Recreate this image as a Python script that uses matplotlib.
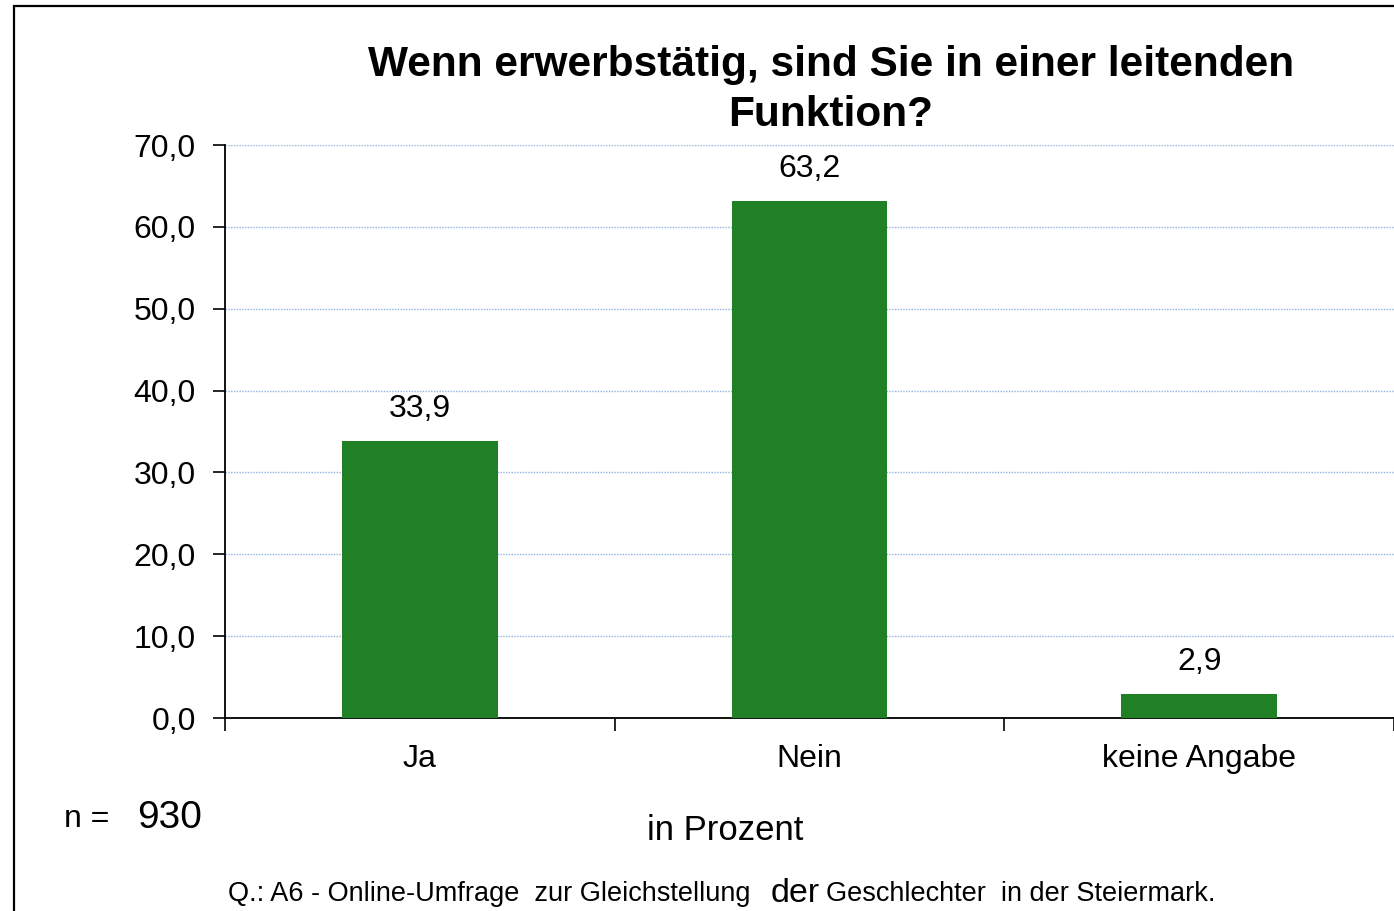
import matplotlib
matplotlib.use("Agg")
import matplotlib.pyplot as plt
from matplotlib.patches import Rectangle
from matplotlib.ticker import FuncFormatter, FixedLocator

plt.rcParams["font.family"] = ["Liberation Sans", "DejaVu Sans"]

# data
categories = ["Ja", "Nein", "keine Angabe"]
values = [33.9, 63.2, 2.9]
y_ticks = [0, 10, 20, 30, 40, 50, 60, 70]
title = "Wenn erwerbstätig, sind Sie in einer leitenden\nFunktion?"
n_total = 930

BAR_COLOR = "#208025"
GRID_COLOR = "#8db3e2"


def de_num(v, _pos=None):
    return f"{v:.1f}".replace(".", ",")


fig = plt.figure(figsize=(13.94, 9.11), dpi=100)
ax = fig.add_axes([225 / 1394, 1 - 718 / 911, 1 - 225 / 1394, (718 - 145) / 911])

xs = list(range(len(categories)))
ax.bar(xs, values, width=0.4, color=BAR_COLOR, edgecolor="none", zorder=3)

for x, v in zip(xs, values):
    ax.annotate(de_num(v), (x, v), xytext=(0, 23), textcoords="offset points",
                ha="center", va="center", fontsize=23)

ax.set_xlim(-0.5, len(categories) - 0.5)
ax.set_ylim(y_ticks[0], y_ticks[-1])
ax.set_yticks(y_ticks)
ax.yaxis.set_major_formatter(FuncFormatter(de_num))
ax.yaxis.grid(True, color=GRID_COLOR, linestyle=(0, (1, 1)), linewidth=1.0, zorder=0)

ax.set_xticks(xs)
ax.set_xticklabels(categories, fontsize=23)
ax.xaxis.set_minor_locator(FixedLocator([i - 0.5 for i in range(len(categories) + 1)]))
ax.tick_params(axis="x", which="major", length=0, pad=19)
ax.tick_params(axis="x", which="minor", length=9, width=1.2, direction="out")
ax.tick_params(axis="y", length=9, width=1.2, direction="out", labelsize=23, pad=12)

for side in ("top", "right"):
    ax.spines[side].set_visible(False)
for side in ("left", "bottom"):
    ax.spines[side].set_linewidth(1.3)

fig.text(831 / 1394, 1 - 90 / 911, title, ha="center", va="center",
         fontsize=30.5, fontweight="bold", linespacing=1.32)

fig.text(64 / 1394, 1 - 819 / 911, "n =", ha="left", va="center", fontsize=23)
fig.text(137 / 1394, 1 - 818 / 911, str(n_total), ha="left", va="center", fontsize=28)
fig.text(725 / 1394, 1 - 831 / 911, "in Prozent", ha="center", va="center", fontsize=25)

fig.text(228 / 1394, 1 - 894 / 911, "Q.: A6 - Online-Umfrage  zur Gleichstellung",
         ha="left", va="center", fontsize=19.5)
fig.text(771 / 1394, 1 - 894 / 911, "der", ha="left", va="center", fontsize=24.5)
fig.text(826 / 1394, 1 - 894 / 911, "Geschlechter  in der Steiermark.",
         ha="left", va="center", fontsize=19.5)

fig.add_artist(Rectangle((14 / 1394, -0.1), 2.0, 1.1 - 6 / 911, transform=fig.transFigure,
                         fill=False, edgecolor="black", linewidth=1.6))

fig.savefig("out.png", dpi=100)
